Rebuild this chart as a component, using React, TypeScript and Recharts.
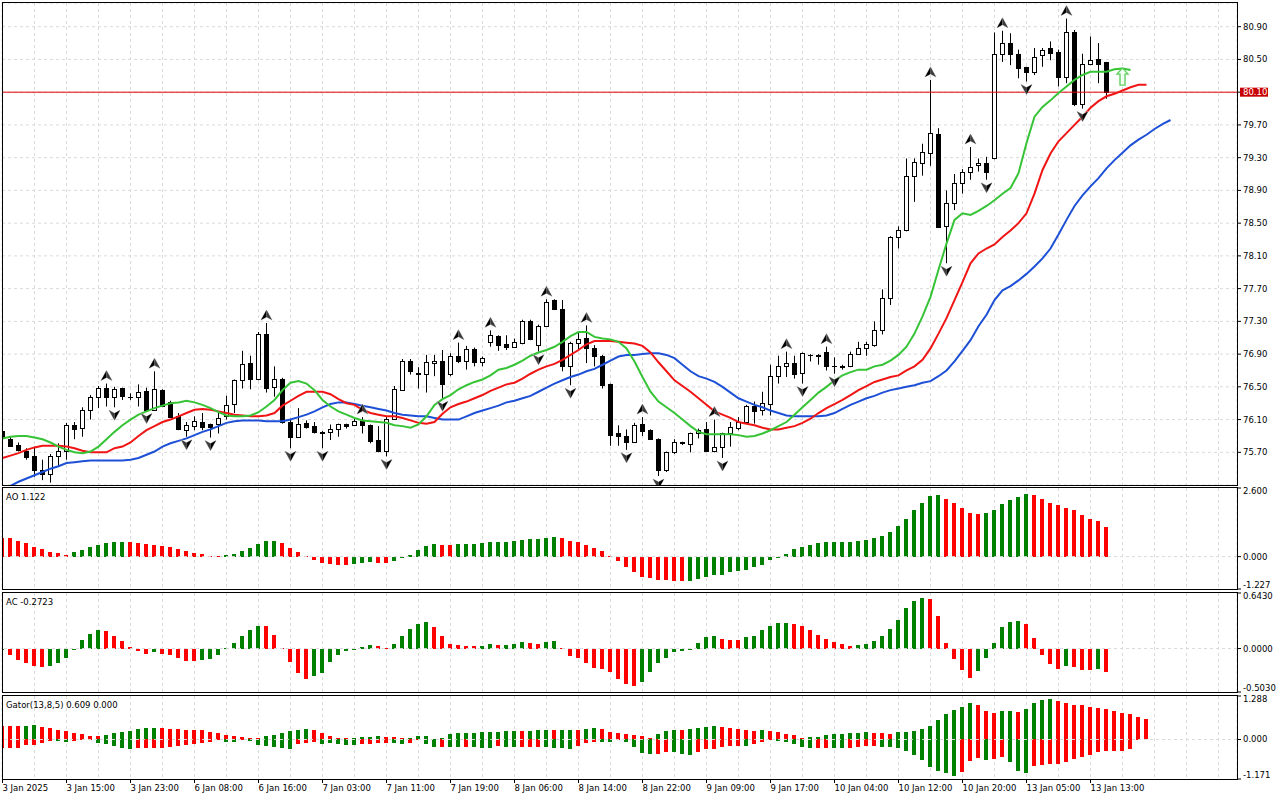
import React from "react";
import {
  Bar,
  CartesianGrid,
  Cell,
  ComposedChart,
  Line,
  ReferenceDot,
  ReferenceLine,
  Scatter,
  XAxis,
  YAxis,
} from "recharts";

// H1 bars, one time label every 8 bars
const timeLabels = [
  "3 Jan 2025", "3 Jan 15:00", "3 Jan 23:00", "6 Jan 08:00", "6 Jan 16:00", "7 Jan 03:00",
  "7 Jan 11:00", "7 Jan 19:00", "8 Jan 06:00", "8 Jan 14:00", "8 Jan 22:00", "9 Jan 09:00",
  "9 Jan 17:00", "10 Jan 04:00", "10 Jan 12:00", "10 Jan 20:00", "13 Jan 05:00", "13 Jan 13:00",
];

const opens = [
  75.96, 75.86, 75.79, 75.72, 75.66, 75.48, 75.44, 75.65, 75.71, 76.03,
  76.0, 76.22, 76.37, 76.49, 76.37, 76.48, 76.38, 76.37, 76.45, 76.22,
  76.46, 76.32, 76.14, 75.97, 76.02, 76.07, 76.04, 76.04, 76.14, 76.29,
  76.58, 76.79, 76.6, 77.14, 76.5, 76.6, 76.07, 75.89, 76.06, 76.02,
  75.95, 75.95, 75.98, 76.04, 76.03, 76.08, 76.03, 75.85, 75.72, 76.11,
  76.46, 76.82, 76.67, 76.66, 76.79, 76.82, 76.66, 76.88, 76.82, 76.96,
  76.8, 77.05, 77.12, 77.02, 76.99, 77.03, 77.3, 77.01, 77.24, 77.56,
  77.45, 76.75, 77.03, 77.1, 76.97, 76.88, 76.53, 75.94, 75.9, 75.83,
  76.04, 75.97, 75.86, 75.48, 75.7, 75.81, 75.8, 75.93, 75.98, 75.71,
  75.77, 75.93, 76.0, 76.07, 76.27, 76.22, 76.29, 76.63, 76.76, 76.79,
  76.67, 76.89, 76.89, 76.93, 76.75, 76.75, 76.75, 76.9, 76.98, 77.01,
  77.2, 77.58, 78.33, 78.42, 79.08, 79.24, 79.36, 79.59, 78.46, 78.74,
  78.99, 79.12, 79.21, 79.24, 79.29, 80.57, 80.7, 80.57, 80.41, 80.35,
  80.55, 80.64, 80.59, 80.29, 80.84, 79.96, 80.45, 80.51, 80.47,
];
const highs = [
  76.0, 75.89, 75.82, 75.75, 75.77, 75.61, 75.68, 75.81, 76.06, 76.07,
  76.25, 76.4, 76.51, 76.54, 76.5, 76.49, 76.42, 76.53, 76.49, 76.69,
  76.47, 76.33, 76.18, 76.07, 76.14, 76.18, 76.05, 76.18, 76.39, 76.59,
  76.94, 76.88, 77.17, 77.28, 76.75, 76.61, 76.11, 76.24, 76.09, 76.07,
  75.96, 76.04, 76.05, 76.05, 76.12, 76.13, 76.04, 76.02, 76.13, 76.51,
  76.84, 76.84, 76.74, 76.89, 76.89, 76.95, 76.91, 77.04, 77.0, 76.98,
  76.87, 77.19, 77.13, 77.13, 77.09, 77.32, 77.32, 77.26, 77.57, 77.57,
  77.56, 77.05, 77.17, 77.25, 77.01, 76.89, 76.54, 76.03, 75.98, 76.06,
  76.13, 75.98, 75.87, 75.71, 75.86, 75.83, 75.94, 75.99, 76.07, 76.1,
  75.94, 76.07, 76.13, 76.28, 76.32, 76.44, 76.77, 76.88, 76.93, 76.88,
  76.92, 76.9, 76.9, 76.99, 76.86, 76.77, 76.93, 77.05, 77.05, 77.3,
  77.69, 78.34, 78.46, 79.29, 79.29, 79.47, 80.25, 79.66, 78.9, 79.1,
  79.16, 79.43, 79.29, 79.31, 80.83, 80.85, 80.82, 80.62, 80.41, 80.64,
  80.64, 80.72, 80.62, 81.0, 80.86, 80.57, 80.78, 80.7, 80.47,
];
const lows = [
  75.85, 75.77, 75.71, 75.61, 75.4, 75.36, 75.33, 75.52, 75.61, 75.86,
  75.89, 76.1, 76.24, 76.26, 76.25, 76.34, 76.34, 76.26, 76.21, 76.21,
  76.26, 76.12, 75.97, 75.89, 75.97, 75.97, 75.88, 75.93, 76.1, 76.18,
  76.48, 76.47, 76.58, 76.43, 76.38, 76.05, 75.75, 75.88, 75.99, 75.93,
  75.75, 75.85, 75.89, 75.99, 76.02, 75.93, 75.81, 75.7, 75.65, 76.1,
  76.45, 76.65, 76.48, 76.43, 76.63, 76.36, 76.63, 76.79, 76.71, 76.75,
  76.75, 76.99, 76.94, 76.95, 76.98, 77.02, 77.07, 76.93, 77.24, 77.44,
  76.69, 76.52, 76.95, 76.79, 76.75, 76.48, 75.78, 75.78, 75.73, 75.82,
  75.9, 75.85, 75.41, 75.46, 75.68, 75.79, 75.7, 75.87, 75.71, 75.7,
  75.63, 75.77, 75.97, 76.05, 76.05, 76.15, 76.15, 76.54, 76.62, 76.6,
  76.54, 76.81, 76.77, 76.7, 76.66, 76.71, 76.74, 76.89, 76.88, 76.99,
  77.14, 77.5, 78.19, 78.4, 78.76, 79.08, 79.2, 78.45, 78.01, 78.66,
  78.86, 79.03, 79.13, 79.03, 79.28, 80.47, 80.43, 80.27, 80.23, 80.31,
  80.41, 80.49, 80.17, 80.21, 79.93, 79.9, 80.43, 80.21, 80.02,
];
const closes = [
  75.87, 75.78, 75.73, 75.64, 75.48, 75.43, 75.66, 75.71, 76.03, 75.98,
  76.22, 76.37, 76.48, 76.37, 76.47, 76.39, 76.38, 76.44, 76.22, 76.47,
  76.27, 76.13, 75.98, 76.03, 76.08, 76.01, 76.01, 76.12, 76.28, 76.58,
  76.78, 76.6, 77.15, 76.49, 76.6, 76.07, 75.89, 76.05, 76.01, 75.95,
  75.94, 75.98, 76.04, 76.02, 76.08, 76.03, 75.84, 75.71, 76.11, 76.47,
  76.82, 76.69, 76.66, 76.8, 76.82, 76.54, 76.88, 76.81, 76.96, 76.8,
  76.85, 77.13, 77.01, 76.99, 77.05, 77.3, 77.09, 77.24, 77.54, 77.45,
  76.75, 77.04, 77.09, 76.97, 76.88, 76.52, 75.91, 75.9, 75.83, 76.03,
  75.96, 75.86, 75.49, 75.7, 75.82, 75.82, 75.93, 75.97, 75.71, 75.76,
  75.93, 76.01, 76.07, 76.27, 76.2, 76.3, 76.63, 76.76, 76.79, 76.66,
  76.91, 76.89, 76.88, 76.75, 76.75, 76.74, 76.9, 76.98, 77.02, 77.2,
  77.58, 78.33, 78.42, 79.08, 79.25, 79.37, 79.6, 78.45, 78.74, 78.99,
  79.12, 79.19, 79.24, 79.13, 80.57, 80.7, 80.57, 80.4, 80.35, 80.53,
  80.62, 80.58, 80.29, 80.84, 79.96, 80.44, 80.49, 80.44, 80.1,
];

// Alligator (already shifted forward: jaw 8, teeth 5, lips 3)
const jaw = [
  75.25, 75.29, 75.34, 75.38, 75.42, 75.46, 75.5, 75.53, 75.57, 75.58,
  75.59, 75.6, 75.6, 75.6, 75.6, 75.6, 75.61, 75.63, 75.67, 75.71,
  75.77, 75.81, 75.84, 75.87, 75.91, 75.95, 75.98, 76.02, 76.06, 76.08,
  76.09, 76.09, 76.09, 76.08, 76.08, 76.08, 76.1, 76.13, 76.16, 76.2,
  76.25, 76.29, 76.31, 76.31, 76.29, 76.27, 76.25, 76.23, 76.21, 76.18,
  76.16, 76.15, 76.14, 76.14, 76.12, 76.1, 76.1, 76.1, 76.14, 76.18,
  76.21, 76.24, 76.27, 76.31, 76.33, 76.36, 76.39, 76.44, 76.49, 76.54,
  76.58, 76.62, 76.65, 76.69, 76.72, 76.77, 76.82, 76.87, 76.89, 76.89,
  76.9, 76.91, 76.91, 76.89, 76.85, 76.77, 76.69, 76.63, 76.6, 76.56,
  76.5, 76.43, 76.36, 76.32, 76.28, 76.25, 76.21, 76.18, 76.15, 76.14,
  76.14, 76.14, 76.14, 76.15, 76.18, 76.23, 76.28, 76.32, 76.36, 76.39,
  76.43, 76.46, 76.48, 76.5, 76.52, 76.55, 76.57, 76.63, 76.7, 76.81,
  76.94, 77.07, 77.24, 77.38, 77.56, 77.68, 77.73, 77.8, 77.88, 77.97,
  78.07, 78.19, 78.36, 78.54, 78.71, 78.84, 78.95, 79.05, 79.17, 79.27,
  79.36, 79.45, 79.52, 79.58, 79.65, 79.71, 79.76,
];
const teeth = [
  75.63, 75.66, 75.69, 75.73, 75.76, 75.78, 75.78, 75.78, 75.77, 75.75,
  75.72, 75.7, 75.7, 75.7, 75.75, 75.77, 75.82, 75.9, 75.97, 76.02,
  76.07, 76.1, 76.14, 76.18, 76.22, 76.23, 76.22, 76.2, 76.18, 76.16,
  76.15, 76.14, 76.14, 76.15, 76.18, 76.27, 76.33, 76.39, 76.44, 76.44,
  76.44, 76.41, 76.35, 76.3, 76.28, 76.22, 76.18, 76.16, 76.14, 76.14,
  76.12, 76.09, 76.06, 76.05, 76.07, 76.17, 76.25, 76.29, 76.32, 76.36,
  76.4, 76.45, 76.49, 76.53, 76.55, 76.6, 76.66, 76.71, 76.75, 76.78,
  76.83, 76.89, 76.95, 77.02, 77.06, 77.06, 77.06, 77.05, 77.04, 77.03,
  77.0, 76.92, 76.8, 76.69, 76.58, 76.51, 76.44, 76.36, 76.28, 76.2,
  76.16, 76.12, 76.07, 76.05, 76.03, 76.0, 75.98, 75.98, 76.0, 76.02,
  76.06, 76.11, 76.18, 76.24, 76.29, 76.34, 76.4, 76.46, 76.51, 76.56,
  76.59, 76.62, 76.64, 76.7, 76.75, 76.83, 76.97, 77.15, 77.34, 77.56,
  77.78, 78.01, 78.13, 78.19, 78.24, 78.33, 78.41, 78.5, 78.62, 78.86,
  79.15, 79.35, 79.5, 79.6, 79.7, 79.8, 79.91, 79.99, 80.05, 80.08,
  80.12, 80.16, 80.19, 80.19,
];
const lips = [
  75.87, 75.89, 75.9, 75.9, 75.88, 75.86, 75.82, 75.77, 75.73, 75.7,
  75.69, 75.71, 75.77, 75.86, 75.95, 76.03, 76.1, 76.16, 76.2, 76.24,
  76.27, 76.3, 76.31, 76.33, 76.31, 76.28, 76.24, 76.19, 76.15, 76.14,
  76.14, 76.15, 76.19, 76.26, 76.34, 76.46, 76.55, 76.57, 76.54, 76.46,
  76.34, 76.26, 76.2, 76.16, 76.12, 76.09, 76.08, 76.07, 76.06, 76.03,
  76.02, 76.0, 76.04, 76.14, 76.28, 76.35, 76.4, 76.47, 76.52, 76.56,
  76.59, 76.64, 76.71, 76.73, 76.77, 76.82, 76.88, 76.92, 76.95, 76.99,
  77.05, 77.12, 77.17, 77.17, 77.11, 77.09, 77.08, 77.05, 76.97, 76.81,
  76.62, 76.44, 76.32, 76.25, 76.18, 76.1, 76.02, 75.95, 75.92, 75.92,
  75.92, 75.92, 75.91, 75.89, 75.9, 75.93, 75.97, 76.02, 76.07, 76.16,
  76.25, 76.34, 76.43, 76.5, 76.58, 76.64, 76.68, 76.71, 76.71, 76.75,
  76.77, 76.82, 76.89, 76.99, 77.15, 77.36, 77.6, 77.93, 78.25, 78.54,
  78.62, 78.6, 78.65, 78.71, 78.78, 78.86, 78.93, 79.11, 79.48, 79.8,
  79.92, 80.0, 80.09, 80.17, 80.25, 80.31, 80.35, 80.35, 80.35, 80.38,
  80.39, 80.37,
];

const fractalUp = [13, 19, 33, 45, 57, 61, 68, 73, 80, 89, 98, 103, 116, 121, 125, 133];
const fractalDown = [6, 14, 18, 23, 26, 36, 40, 48, 55, 67, 71, 78, 82, 90, 100, 104, 118, 123, 128, 135];

const currentPrice = 80.1;
const signalArrow = { index: 140, price: 80.29 };

const aoValues = [
  0.72, 0.69, 0.59, 0.5, 0.36, 0.28, 0.17, 0.12, 0.08, 0.18,
  0.24, 0.36, 0.44, 0.51, 0.54, 0.56, 0.555, 0.51, 0.49, 0.44,
  0.4, 0.36, 0.28, 0.21, 0.13, 0.09, 0.03, 0.01, 0.05, 0.09,
  0.21, 0.32, 0.46, 0.58, 0.6, 0.51, 0.32, 0.17, 0.01, -0.12,
  -0.26, -0.27, -0.3, -0.31, -0.28, -0.26, -0.22, -0.23, -0.26, -0.18,
  -0.05, 0.08, 0.24, 0.4, 0.47, 0.44, 0.43, 0.46, 0.47, 0.48,
  0.51, 0.55, 0.56, 0.57, 0.59, 0.63, 0.67, 0.68, 0.71, 0.74,
  0.71, 0.59, 0.55, 0.44, 0.32, 0.21, 0.04, -0.17, -0.41, -0.6,
  -0.76, -0.8, -0.87, -0.88, -0.91, -0.92, -0.91, -0.83, -0.76, -0.69,
  -0.68, -0.6, -0.56, -0.49, -0.41, -0.3, -0.14, -0.01, 0.1, 0.28,
  0.36, 0.44, 0.51, 0.54, 0.55, 0.56, 0.57, 0.59, 0.63, 0.71,
  0.78, 0.94, 1.17, 1.44, 1.75, 2.02, 2.28, 2.32, 2.17, 2.05,
  1.86, 1.67, 1.63, 1.67, 1.78, 1.98, 2.13, 2.25, 2.36, 2.32,
  2.17, 2.05, 1.94, 1.86, 1.75, 1.59, 1.44, 1.36, 1.122,
];
const aoColors = (
  "rrrrrrrrrg ggggggrrrr rrrrrrrrgg gggggrrrrr rrrrgggrrg gggggrrggg gggggggggg " +
  "rrrrrrrrrr rrrrrrgggg gggggggggg gggggggggg ggggggggrr rrrggggggr rrrrrrrrr"
).replace(/ /g, "");

const acValues = [
  -0.02, -0.07, -0.13, -0.17, -0.2, -0.21, -0.2, -0.17, -0.11, -0.01,
  0.1, 0.17, 0.21, 0.2, 0.14, 0.09, 0.02, -0.03, -0.06, -0.04,
  -0.06, -0.07, -0.11, -0.14, -0.145, -0.13, -0.12, -0.07, 0.004, 0.065,
  0.15, 0.21, 0.26, 0.26, 0.16, 0.005, -0.16, -0.28, -0.35, -0.32,
  -0.28, -0.15, -0.08, -0.03, -0.01, 0.02, 0.045, 0.025, 0.012, 0.05,
  0.14, 0.23, 0.28, 0.31, 0.25, 0.14, 0.05, 0.04, 0.03, 0.03,
  0.035, 0.05, 0.04, 0.045, 0.05, 0.08, 0.065, 0.05, 0.08, 0.09,
  0.01, -0.085, -0.11, -0.17, -0.23, -0.235, -0.27, -0.35, -0.41, -0.43,
  -0.39, -0.27, -0.17, -0.11, -0.045, -0.03, -0.01, 0.065, 0.13, 0.14,
  0.11, 0.1, 0.1, 0.13, 0.15, 0.21, 0.26, 0.3, 0.3, 0.28,
  0.26, 0.21, 0.16, 0.11, 0.08, 0.05, 0.03, 0.04, 0.05, 0.09,
  0.14, 0.23, 0.33, 0.47, 0.55, 0.59, 0.575, 0.38, 0.065, -0.12,
  -0.25, -0.34, -0.26, -0.105, 0.065, 0.25, 0.31, 0.32, 0.28, 0.125,
  -0.07, -0.18, -0.24, -0.2, -0.215, -0.25, -0.25, -0.24, -0.2723,
];
const acColors = (
  "grrrrrgggg gggrrrrrrg rrrrrggggg gggrrrrrrg gggggggrrg ggggrrrrrr ggrgggrrgg " +
  "rrrrrrrrrr gggggggggg rrrggggggr rrrrrrrggg ggggggrrrr rrggggggrr rrrgrrrgr"
).replace(/ /g, "");

// Gator (13,8,5): upper histogram and lower histogram
const gatorUp = [
  0.41, 0.41, 0.4, 0.41, 0.42, 0.38, 0.35, 0.28, 0.25, 0.185,
  0.15, 0.1, 0.09, 0.12, 0.185, 0.22, 0.25, 0.32, 0.33, 0.35,
  0.35, 0.32, 0.31, 0.29, 0.28, 0.27, 0.22, 0.185, 0.12, 0.09,
  0.085, 0.05, 0.045, 0.09, 0.12, 0.185, 0.25, 0.28, 0.32, 0.28,
  0.185, 0.09, 0.05, 0.03, 0.05, 0.06, 0.08, 0.1, 0.07, 0.06,
  0.05, 0.055, 0.09, 0.095, 0.02, 0.05, 0.15, 0.185, 0.19, 0.195,
  0.22, 0.225, 0.23, 0.25, 0.255, 0.25, 0.255, 0.28, 0.285, 0.28,
  0.285, 0.29, 0.28, 0.32, 0.35, 0.32, 0.22, 0.185, 0.15, 0.145,
  0.09, 0.05, 0.15, 0.25, 0.28, 0.275, 0.32, 0.35, 0.38, 0.385,
  0.38, 0.35, 0.32, 0.28, 0.25, 0.28, 0.25, 0.22, 0.15, 0.12,
  0.05, 0.06, 0.08, 0.12, 0.15, 0.155, 0.185, 0.19, 0.22, 0.185,
  0.18, 0.175, 0.22, 0.225, 0.25, 0.32, 0.41, 0.58, 0.74, 0.87,
  0.97, 1.07, 1.03, 0.84, 0.77, 0.84, 0.845, 0.81, 0.9, 1.07,
  1.17, 1.2, 1.14, 1.07, 1.03, 1.02, 0.97, 0.94, 0.9, 0.84,
  0.79, 0.74, 0.68, 0.609,
];
const gatorUpColors = (
  "rrrggrrrrr rrrggggggg rrrrrrrrrr rrrggggggr rrrrggggrr rgggrggggg gggggrgggr " +
  "ggrggrrrrr rrgggrgggg rrrrrgrrrr rggggggggr rrgggggggg ggrrrggrgg ggrrrrrrrr rrrr"
).replace(/ /g, "");
const gatorDown = [
  -0.24, -0.24, -0.24, -0.16, -0.16, -0.1, -0.04, -0.05, -0.065, -0.05,
  -0.03, -0.02, -0.1, -0.13, -0.2, -0.26, -0.29, -0.26, -0.26, -0.26,
  -0.26, -0.23, -0.2, -0.16, -0.13, -0.1, -0.065, -0.03, -0.065, -0.07,
  -0.03, -0.04, -0.16, -0.2, -0.23, -0.26, -0.29, -0.13, -0.1, -0.065,
  -0.13, -0.1, -0.13, -0.16, -0.17, -0.13, -0.12, -0.1, -0.09, -0.1,
  -0.13, -0.1, -0.03, -0.13, -0.23, -0.22, -0.23, -0.235, -0.23, -0.235,
  -0.26, -0.265, -0.2, -0.23, -0.235, -0.23, -0.225, -0.22, -0.23, -0.26,
  -0.265, -0.29, -0.2, -0.1, -0.065, -0.07, -0.075, -0.03, -0.065, -0.23,
  -0.39, -0.42, -0.42, -0.36, -0.37, -0.42, -0.46, -0.36, -0.29, -0.285,
  -0.23, -0.2, -0.195, -0.2, -0.13, -0.065, -0.03, -0.035, -0.065, -0.13,
  -0.23, -0.26, -0.255, -0.25, -0.26, -0.265, -0.26, -0.23, -0.2, -0.19,
  -0.23, -0.235, -0.26, -0.33, -0.46, -0.62, -0.82, -0.92, -0.98, -1.08,
  -0.95, -0.65, -0.56, -0.62, -0.59, -0.52, -0.68, -0.92, -0.98, -0.78,
  -0.77, -0.72, -0.715, -0.68, -0.59, -0.52, -0.46, -0.36, -0.355, -0.35,
  -0.345, -0.27, -0.02, 0,
];
const gatorDownColors = (
  "rrrrrrrggr rrgggggrrr rrrrrrrrgg rggggggrrr gggggrrrrg grrggrggrg ggrggrrrgg " +
  "ggrrrggrgg ggrrgggrrr rrrgrrrggg ggrrggrrrr gggggggggg rrrgrrgggr rrrrrrrrrr rrrr"
).replace(/ /g, "");

const priceTicks = [75.7, 76.1, 76.5, 76.9, 77.3, 77.7, 78.1, 78.5, 78.9, 79.3, 79.7, 80.1, 80.5, 80.9];
const aoTicks = [2.6, 0, -1.227];
const acTicks = [0.643, 0, -0.503];
const gatorTicks = [1.288, 0, -1.171];

const GREEN = "#008000";
const RED = "#ff0000";
const JAW = "#1d50d6";
const TEETH = "#f01414";
const LIPS = "#36c436";
const GRID = "#dadada";
const FONT = "'DejaVu Sans', Verdana, sans-serif";
const FS = 8.5;

const X_DOMAIN = [-0.0625, 154.3125];
const CHART_W = 1280;
const AXIS_W = 43;
const PAD = 5; // room above/below sub-pane plots so edge labels are not clipped

const gridX = Array.from({ length: 38 }, (_, k) => 4 * (k + 1));
const labelIdx = timeLabels.map((_, k) => k * 8);
const upSet = new Set(fractalUp);
const downSet = new Set(fractalDown);

const mainRows = jaw.map((_, i) => ({
  i,
  range: i < closes.length ? [lows[i], highs[i]] : null,
  o: opens[i],
  h: highs[i],
  l: lows[i],
  c: closes[i],
  jaw: jaw[i],
  teeth: teeth[i],
  lips: lips[i],
  fu: upSet.has(i) ? highs[i] : null,
  fd: downSet.has(i) ? lows[i] : null,
}));
const aoRows = aoValues.map((v, i) => ({ i, v }));
const acRows = acValues.map((v, i) => ({ i, v }));
const gatorRows = gatorUp.map((u, i) => ({ i, u, d: gatorDown[i] }));

const col = (s: string, i: number) => (s[i] === "g" ? GREEN : RED);

function Candle(props: any) {
  const { x, y, width, height, payload } = props;
  if (!payload || payload.o == null || !isFinite(y) || !isFinite(x)) return <g />;
  const top = Math.min(y, y + height);
  const span = Math.abs(height);
  const k = span / (payload.h - payload.l);
  const py = (v: number) => top + (payload.h - v) * k;
  const cx = Math.round(x + width / 2 - 0.5) + 0.5;
  const yo = py(payload.o);
  const yc = py(payload.c);
  const bt = Math.round(Math.min(yo, yc)) + 0.5;
  const bb = Math.round(Math.max(yo, yc)) + 0.5;
  const bull = payload.c >= payload.o;
  return (
    <g>
      <line x1={cx} x2={cx} y1={py(payload.h)} y2={py(payload.l)} stroke="#000" strokeWidth={1} />
      {bb - bt < 1 ? (
        <line x1={cx - 2.5} x2={cx + 2.5} y1={bt} y2={bt} stroke="#000" strokeWidth={1} />
      ) : (
        <rect x={cx - 2} y={bt} width={4} height={bb - bt} fill={bull ? "#fff" : "#000"} stroke="#000" strokeWidth={1} />
      )}
    </g>
  );
}

function FractalUp(props: any) {
  const { cx, cy, payload } = props;
  if (!payload || payload.fu == null || !isFinite(cy)) return <g />;
  return (
    <g transform={`translate(${cx},${cy - 8})`}>
      <path d="M0,-5 L5.5,5 L0,2 L-5.5,5 Z" fill="none" stroke="#c8c8c8" strokeWidth={1} />
      <path d="M0,-5 L0,2 L-5.5,5 Z" fill="#000" />
      <path d="M0,-5 L5.5,5 L0,2 Z" fill="#3c3c3c" />
    </g>
  );
}

function FractalDown(props: any) {
  const { cx, cy, payload } = props;
  if (!payload || payload.fd == null || !isFinite(cy)) return <g />;
  return (
    <g transform={`translate(${cx},${cy + 8})`}>
      <path d="M0,5 L5.5,-5 L0,-2 L-5.5,-5 Z" fill="none" stroke="#c8c8c8" strokeWidth={1} />
      <path d="M0,5 L0,-2 L-5.5,-5 Z" fill="#3c3c3c" />
      <path d="M0,5 L5.5,-5 L0,-2 Z" fill="#000" />
    </g>
  );
}

function SignalArrow(props: any) {
  const { cx, cy } = props;
  const d = `M${cx},${cy - 8.5} L${cx + 5.5},${cy - 2.5} L${cx + 2.5},${cy - 2.5} L${cx + 2.5},${cy + 8.5} L${cx - 2.5},${cy + 8.5} L${cx - 2.5},${cy - 2.5} L${cx - 5.5},${cy - 2.5} Z`;
  return <path d={d} fill="#f4fff4" stroke="#5fd05f" strokeWidth={1.4} />;
}

function HistBar(props: any) {
  const { x, y, height, fill } = props;
  if (!isFinite(x) || !isFinite(y) || !height) return <g />;
  const t = Math.round(Math.min(y, y + height));
  const b = Math.round(Math.max(y, y + height));
  return <rect x={Math.floor(x)} y={t} width={4} height={Math.max(1, b - t)} fill={fill} />;
}

function PriceTick(props: any) {
  const { x, y, payload } = props;
  const v = payload.value;
  const label = v.toFixed(2);
  if (Math.abs(v - currentPrice) < 1e-6) {
    return (
      <g>
        <rect x={x - 3} y={y - 4.5} width={28} height={9} fill="#c80000" />
        <text x={x} y={y} dy="0.35em" fontFamily={FONT} fontSize={FS} fill="#fff">{label}</text>
      </g>
    );
  }
  return <text x={x} y={y} dy="0.35em" fontFamily={FONT} fontSize={FS} fill="#000">{label}</text>;
}

const levelTick = (digits: number, minY: number, maxY: number) => (props: any) => {
  const { x, y, payload } = props;
  const ty = Math.min(Math.max(y, minY), maxY);
  return (
    <text x={x} y={ty} dy="0.35em" fontFamily={FONT} fontSize={FS} fill="#000">
      {payload.value.toFixed(digits)}
    </text>
  );
};

function TimeTick(props: any) {
  const { x, y, payload } = props;
  return (
    <text x={x} y={y} dy="0.71em" textAnchor="start" fontFamily={FONT} fontSize={FS} fill="#000">
      {timeLabels[Math.round(payload.value / 8)]}
    </text>
  );
}

// hidden axis that only carries the vertical grid positions
const gridAxis = (
  <XAxis xAxisId="grid" type="number" dataKey="i" domain={X_DOMAIN} allowDataOverflow hide ticks={gridX} interval={0} />
);

const frame = (top: number, height: number) => ({
  position: "absolute" as const,
  left: 2,
  top,
  width: 1236,
  height,
  border: "1px solid #000",
  boxSizing: "border-box" as const,
  pointerEvents: "none" as const,
});

const title = (top: number) => ({
  position: "absolute" as const,
  left: 6,
  top,
  fontFamily: FONT,
  fontSize: FS,
  lineHeight: "10px",
  color: "#000",
  whiteSpace: "nowrap" as const,
});

const levelAxis = (domain: number[], ticks: number[], digits: number, plotH: number) => (
  <YAxis
    orientation="right"
    width={AXIS_W}
    domain={domain}
    allowDataOverflow
    ticks={ticks}
    interval={0}
    axisLine={false}
    tickLine={{ stroke: "#000" }}
    tickSize={4}
    tickMargin={2}
    tick={levelTick(digits, PAD + 3, PAD + plotH - 4)}
  />
);

export default function App() {
  return (
    <div style={{ position: "absolute", left: 0, top: 0, width: 1280, height: 800, background: "#fff", overflow: "hidden" }}>
      {/* price pane: plot y 3..485 */}
      <div style={{ position: "absolute", left: 0, top: 0 }}>
        <ComposedChart width={CHART_W} height={493} data={mainRows} margin={{ top: 3, right: 0, bottom: 8, left: 2 }}>
          <XAxis type="number" dataKey="i" domain={X_DOMAIN} allowDataOverflow hide />
          {gridAxis}
          <YAxis
            orientation="right"
            width={AXIS_W}
            domain={[75.3007, 81.1896]}
            allowDataOverflow
            ticks={priceTicks}
            interval={0}
            axisLine={false}
            tickLine={{ stroke: "#000" }}
            tickSize={4}
            tickMargin={2}
            tick={PriceTick}
          />
          <CartesianGrid xAxisId="grid" stroke={GRID} strokeDasharray="3 3" />
          <ReferenceLine y={currentPrice} stroke="#e00000" strokeWidth={1} />
          <Bar dataKey="range" barSize={4} shape={Candle} isAnimationActive={false} />
          <Line dataKey="jaw" type="linear" stroke={JAW} strokeWidth={2} dot={false} isAnimationActive={false} />
          <Line dataKey="teeth" type="linear" stroke={TEETH} strokeWidth={2} dot={false} isAnimationActive={false} />
          <Line dataKey="lips" type="linear" stroke={LIPS} strokeWidth={2} dot={false} isAnimationActive={false} />
          <Scatter dataKey="fu" shape={FractalUp} isAnimationActive={false} />
          <Scatter dataKey="fd" shape={FractalDown} isAnimationActive={false} />
          <ReferenceDot x={signalArrow.index} y={signalArrow.price} r={1} shape={SignalArrow} ifOverflow="visible" />
        </ComposedChart>
      </div>

      {/* AO pane: plot y 488..589 */}
      <div style={{ position: "absolute", left: 0, top: 488 - PAD }}>
        <ComposedChart width={CHART_W} height={101 + 2 * PAD} data={aoRows} margin={{ top: PAD, right: 0, bottom: PAD, left: 2 }}>
          <XAxis type="number" dataKey="i" domain={X_DOMAIN} allowDataOverflow hide />
          {gridAxis}
          {levelAxis([-1.227, 2.6], aoTicks, 3, 101)}
          <CartesianGrid xAxisId="grid" horizontal={false} stroke={GRID} strokeDasharray="3 3" />
          <Bar dataKey="v" barSize={4} shape={HistBar} isAnimationActive={false}>
            {aoRows.map((r) => (
              <Cell key={r.i} fill={col(aoColors, r.i)} />
            ))}
          </Bar>
          <ReferenceLine y={0} stroke={GRID} strokeDasharray="3 3" />
        </ComposedChart>
      </div>

      {/* AC pane: plot y 593..692 */}
      <div style={{ position: "absolute", left: 0, top: 593 - PAD }}>
        <ComposedChart width={CHART_W} height={99 + 2 * PAD} data={acRows} margin={{ top: PAD, right: 0, bottom: PAD, left: 2 }}>
          <XAxis type="number" dataKey="i" domain={X_DOMAIN} allowDataOverflow hide />
          {gridAxis}
          {levelAxis([-0.503, 0.643], acTicks, 4, 99)}
          <CartesianGrid xAxisId="grid" horizontal={false} stroke={GRID} strokeDasharray="3 3" />
          <Bar dataKey="v" barSize={4} shape={HistBar} isAnimationActive={false}>
            {acRows.map((r) => (
              <Cell key={r.i} fill={col(acColors, r.i)} />
            ))}
          </Bar>
          <ReferenceLine y={0} stroke={GRID} strokeDasharray="3 3" />
        </ComposedChart>
      </div>

      {/* Gator pane + time axis: plot y 696..779 */}
      <div style={{ position: "absolute", left: 0, top: 696 - PAD }}>
        <ComposedChart
          width={CHART_W}
          height={83 + 22 + PAD}
          data={gatorRows}
          stackOffset="sign"
          margin={{ top: PAD, right: 0, bottom: 0, left: 2 }}
        >
          <XAxis
            type="number"
            dataKey="i"
            domain={X_DOMAIN}
            allowDataOverflow
            ticks={labelIdx}
            interval={0}
            height={22}
            axisLine={false}
            tickLine={{ stroke: "#000" }}
            tickSize={4}
            tickMargin={2}
            tick={TimeTick}
          />
          {gridAxis}
          {levelAxis([-1.171, 1.288], gatorTicks, 3, 83)}
          <CartesianGrid xAxisId="grid" horizontal={false} stroke={GRID} strokeDasharray="3 3" />
          <Bar dataKey="u" stackId="g" barSize={4} shape={HistBar} isAnimationActive={false}>
            {gatorRows.map((r) => (
              <Cell key={r.i} fill={col(gatorUpColors, r.i)} />
            ))}
          </Bar>
          <Bar dataKey="d" stackId="g" barSize={4} shape={HistBar} isAnimationActive={false}>
            {gatorRows.map((r) => (
              <Cell key={r.i} fill={col(gatorDownColors, r.i)} />
            ))}
          </Bar>
          <ReferenceLine y={0} stroke={GRID} strokeDasharray="3 3" />
        </ComposedChart>
      </div>

      <div style={frame(2, 484)} />
      <div style={frame(487, 103)} />
      <div style={frame(592, 101)} />
      <div style={frame(695, 85)} />

      <div style={title(492)}>AO 1.122</div>
      <div style={title(597)}>AC -0.2723</div>
      <div style={title(700)}>Gator(13,8,5) 0.609 0.000</div>
    </div>
  );
}
